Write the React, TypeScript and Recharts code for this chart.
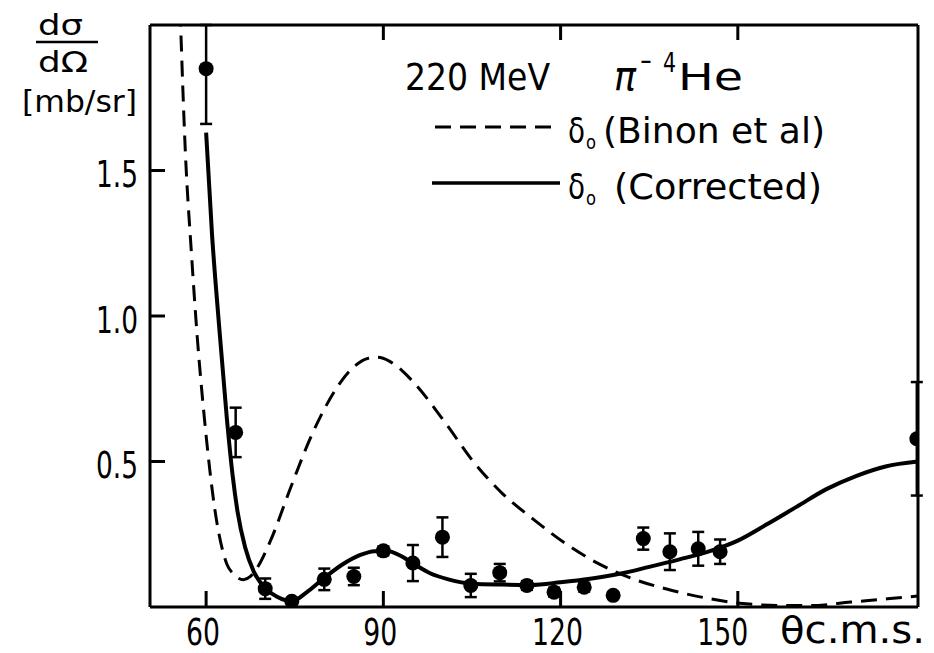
import React from 'react';
import { ComposedChart, Line, Scatter, XAxis, YAxis, ErrorBar } from 'recharts';

const FONT = "'Liberation Sans Narrow', 'DejaVu Sans Condensed', 'DejaVu Sans', sans-serif";

// layout
const MARGIN_TOP = 24;
const TOP_AXIS_H = 1;
const PLOT_TOP = MARGIN_TOP + TOP_AXIS_H;

// axis ticks
const xTicks = [60, 90, 120, 150];
const yTicks = [0.5, 1.0, 1.5];
const xTopTicks = [90, 120, 150];

// delta_0 (Binon et al) — dashed curve
const binonTheta = [55.6, 56.5, 57.5, 58.5, 59.7, 61.5, 63.5, 64.6, 66.3, 67.5, 68.5, 70.9, 74.3, 77.7, 80.0, 82.5, 85.0, 87.5, 89.0, 91.0, 93.3, 95.6, 100.6, 105.1, 110.2, 115.3, 120.9, 126.5, 132.2, 137.8, 145.4, 150.3, 157.8, 162.4, 169.1, 175.3, 180.5];
const binonSigma = [2.05, 1.557, 1.22, 0.927, 0.65, 0.332, 0.148, 0.114, 0.094, 0.105, 0.13, 0.228, 0.41, 0.583, 0.68, 0.765, 0.825, 0.855, 0.858, 0.845, 0.81, 0.761, 0.63, 0.503, 0.389, 0.303, 0.217, 0.148, 0.097, 0.0625, 0.028, 0.013, 0.005, 0.005, 0.017, 0.028, 0.038];

// delta_0 (Corrected) — solid curve
const corrTheta = [60.0, 61.0, 62.1, 63.5, 64.5, 65.3, 66.6, 68.1, 70.0, 72.0, 74.5, 77.0, 80.0, 83.0, 86.0, 88.5, 90.5, 93.0, 95.0, 98.0, 101.0, 105.0, 110.0, 115.0, 120.0, 125.0, 130.0, 135.0, 140.0, 145.0, 150.0, 155.0, 160.0, 165.0, 170.0, 175.0, 180.5];
const corrSigma = [1.63, 1.28, 0.99, 0.65, 0.45, 0.33, 0.205, 0.12, 0.065, 0.035, 0.02, 0.05, 0.10, 0.145, 0.178, 0.192, 0.193, 0.175, 0.15, 0.115, 0.095, 0.08, 0.077, 0.076, 0.085, 0.097, 0.114, 0.138, 0.163, 0.19, 0.228, 0.285, 0.345, 0.405, 0.45, 0.483, 0.5];

// experimental points
const expTheta = [60, 65, 70, 74.5, 80, 85, 90, 95, 100, 104.8, 109.7, 114.3, 118.9, 124.0, 128.9, 134.0, 138.5, 143.3, 147.0, 180.3];
const expSigma = [1.85, 0.60, 0.063, 0.02, 0.095, 0.105, 0.193, 0.151, 0.24, 0.074, 0.118, 0.074, 0.051, 0.068, 0.04, 0.235, 0.19, 0.2, 0.19, 0.578];
const expErrLow = [0.19, 0.085, 0.035, 0, 0.037, 0.03, 0.015, 0.062, 0.068, 0.04, 0.03, 0.015, 0.015, 0.015, 0.01, 0.038, 0.063, 0.058, 0.042, 0.195];
const expErrHigh = [0.15, 0.085, 0.035, 0, 0.037, 0.03, 0.015, 0.062, 0.068, 0.04, 0.03, 0.015, 0.015, 0.015, 0.01, 0.038, 0.063, 0.058, 0.042, 0.195];

const binonData = binonTheta.map((t, i) => ({ theta: t, sigma: binonSigma[i] }));
const corrData = corrTheta.map((t, i) => ({ theta: t, sigma: corrSigma[i] }));
const expData = expTheta.map((t, i) => ({ theta: t, sigma: expSigma[i], err: [expErrLow[i], expErrHigh[i]] }));

const BottomTick = (props: any) => {
  const x = Number(props.x);
  const y = Number(props.y);
  const v = props.payload.value;
  const label = String(v);
  const dx = v === 150 ? -15 : -3;
  return (
    <g>
      <path d={`M${x},${y}V${y - 16}`} stroke="#000" strokeWidth={3} fill="none" />
      {xTopTicks.includes(v) && (
        <path d={`M${x},${PLOT_TOP}V${PLOT_TOP + 15}`} stroke="#000" strokeWidth={3} fill="none" />
      )}
      <text x={x + dx} y={y + 38} textAnchor="middle" fontSize={38} fontFamily={FONT}
        textLength={label.length * 17} lengthAdjust="spacingAndGlyphs" fill="#000">{label}</text>
    </g>
  );
};

const LeftTick = (props: any) => {
  const x = Number(props.x);
  const y = Number(props.y);
  const label = Number(props.payload.value).toFixed(1);
  return (
    <g>
      <path d={`M${x},${y}H${x + 15}`} stroke="#000" strokeWidth={3} fill="none" />
      <text x={x - 12} y={y + 16.5} textAnchor="end" fontSize={38} fontFamily={FONT}
        textLength={42} lengthAdjust="spacingAndGlyphs" fill="#000">{label}</text>
    </g>
  );
};

const Dot = (props: any) => <circle cx={props.cx} cy={props.cy} r={7.5} fill="#000" />;

const T = (p: any) => (
  <text fontFamily={FONT} fill="#000" lengthAdjust="spacingAndGlyphs" {...p} />
);

export default function App() {
  return (
    <div style={{ position: 'absolute', left: 0, top: 0, width: 934, height: 653, background: '#fff' }}>
      <ComposedChart width={934} height={653} margin={{ top: MARGIN_TOP, right: 15, bottom: 0, left: 0 }}>
        <XAxis xAxisId="b" dataKey="theta" type="number" domain={[50.5, 180.5]} allowDataOverflow
          ticks={xTicks} tick={<BottomTick />} tickLine={false} tickSize={0} tickMargin={0} interval={0}
          height={46} axisLine={{ stroke: '#000', strokeWidth: 3 }} />
        <XAxis xAxisId="t" orientation="top" dataKey="theta" type="number" domain={[50.5, 180.5]} allowDataOverflow
          tick={false} tickLine={false} height={TOP_AXIS_H} axisLine={{ stroke: '#000', strokeWidth: 3 }} />
        <YAxis yAxisId="l" type="number" domain={[0, 2]} allowDataOverflow ticks={yTicks}
          tick={<LeftTick />} tickLine={false} tickSize={0} tickMargin={0} interval={0}
          width={150} axisLine={{ stroke: '#000', strokeWidth: 3 }} />
        <YAxis yAxisId="r" orientation="right" type="number" domain={[0, 2]} allowDataOverflow
          tick={false} tickLine={false} width={1} axisLine={{ stroke: '#000', strokeWidth: 3 }} />
        <Line xAxisId="t" yAxisId="r" data={corrData} dataKey="sigma" type="monotone" stroke="none"
          strokeWidth={0} dot={false} activeDot={false} legendType="none" isAnimationActive={false} />
        <Line xAxisId="b" yAxisId="l" data={binonData} dataKey="sigma" type="monotone" stroke="#000"
          strokeWidth={3} strokeDasharray="16 9" dot={false} isAnimationActive={false} />
        <Line xAxisId="b" yAxisId="l" data={corrData} dataKey="sigma" type="monotone" stroke="#000"
          strokeWidth={4} dot={false} isAnimationActive={false} />
        <Scatter xAxisId="b" yAxisId="l" data={expData} dataKey="sigma" shape={<Dot />} isAnimationActive={false}>
          <ErrorBar dataKey="err" direction="y" width={6} stroke="#000" strokeWidth={2.5} isAnimationActive={false} />
        </Scatter>
      </ComposedChart>
      <svg width={934} height={653} style={{ position: 'absolute', left: 0, top: 0, pointerEvents: 'none' }}>
        {/* y-axis quantity */}
        <T x={38} y={35} fontSize={28} textLength={45}>dσ</T>
        <line x1={36} y1={42} x2={98} y2={42} stroke="#000" strokeWidth={2.5} />
        <T x={38} y={72} fontSize={28} textLength={50}>dΩ</T>
        <T x={22} y={112} fontSize={30} textLength={115}>[mb/sr]</T>
        {/* x-axis quantity */}
        <T x={780} y={643} fontSize={38} textLength={145}>θc.m.s.</T>
        {/* title */}
        <T x={405} y={90} fontSize={38} textLength={145}>220 MeV</T>
        <T x={614} y={90} fontSize={40} fontStyle="italic" textLength={22}>π</T>
        <T x={640} y={70} fontSize={26} textLength={12}>−</T>
        <T x={663} y={72} fontSize={26} textLength={13}>4</T>
        <T x={678} y={90} fontSize={38} textLength={65}>He</T>
        {/* legend */}
        <line x1={435} y1={127} x2={555} y2={127} stroke="#000" strokeWidth={3} strokeDasharray="16 9" />
        <T x={568} y={143} fontSize={36} textLength={17}>δ</T>
        <T x={586} y={149} fontSize={20} textLength={10}>o</T>
        <T x={603} y={143} fontSize={36} textLength={222}>(Binon et al)</T>
        <line x1={432} y1={183} x2={560} y2={183} stroke="#000" strokeWidth={3.5} />
        <T x={568} y={199} fontSize={36} textLength={17}>δ</T>
        <T x={586} y={205} fontSize={20} textLength={10}>o</T>
        <T x={614} y={199} fontSize={36} textLength={208}>(Corrected)</T>
      </svg>
    </div>
  );
}
